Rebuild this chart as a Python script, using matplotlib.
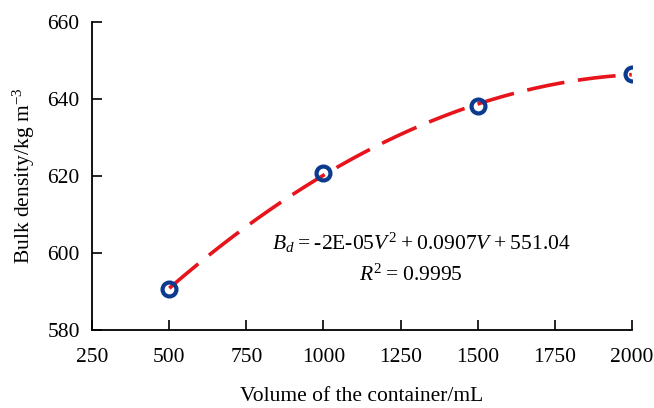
import numpy as np
import matplotlib
matplotlib.use("Agg")
import matplotlib.pyplot as plt

# Data
volume = [500, 1000, 1500, 2000]
density = [590.7, 620.7, 638.2, 646.5]
x_ticks = [250, 500, 750, 1000, 1250, 1500, 1750, 2000]
y_ticks = [580, 600, 620, 640, 660]

plt.rcParams['font.family'] = ['Liberation Serif', 'DejaVu Serif']
plt.rcParams['mathtext.fontset'] = 'custom'
plt.rcParams['mathtext.rm'] = 'Liberation Serif'
plt.rcParams['mathtext.it'] = 'Liberation Serif:italic'

fig = plt.figure(figsize=(6.54, 4.08), dpi=100)
ax = fig.add_axes([0.141, 0.191, 0.825, 0.755])

# Second-order trendline fitted to the points
coef = np.polyfit(volume, density, 2)
xs = np.linspace(min(volume), max(volume), 200)
ax.plot(xs, np.polyval(coef, xs), color='#e8141c', lw=2.6,
        dashes=(10.5, 3.8), zorder=2)

ax.plot(volume, density, 'o', ms=10, mfc='none', mec='#0b3a8f',
        mew=3, zorder=3)

ax.set_xlim(250, 2000)
ax.set_ylim(580, 660)
ax.set_xticks(x_ticks)
ax.set_yticks(y_ticks)
ax.tick_params(direction='in', length=7, width=1.2, labelsize=15.5, pad=9)
ax.tick_params(axis='x', pad=13)
for s in ['top', 'right']:
    ax.spines[s].set_visible(False)
for s in ['left', 'bottom']:
    ax.spines[s].set_linewidth(1.3)

ax.set_xlabel('Volume of the container/mL', fontsize=15.5, labelpad=14)
ax.set_ylabel('Bulk density/kg m$^{-3}$', fontsize=15.5, labelpad=7)

ts = '\u2009'
eq = (r'$B_d$' + ts + '=' + ts + '-2E-05' + r'$V^2$' + ts + '+' + ts +
      '0.0907' + r'$V$' + ts + '+' + ts + '551.04')
ax.text(1316, 602.6, eq, fontsize=15.5, ha='center', va='center')
ax.text(1285, 594.2, r'$R^2$' + ts + '=' + ts + '0.9995', fontsize=15.5,
        ha='center', va='center')

fig.savefig('out.png', dpi=100)
